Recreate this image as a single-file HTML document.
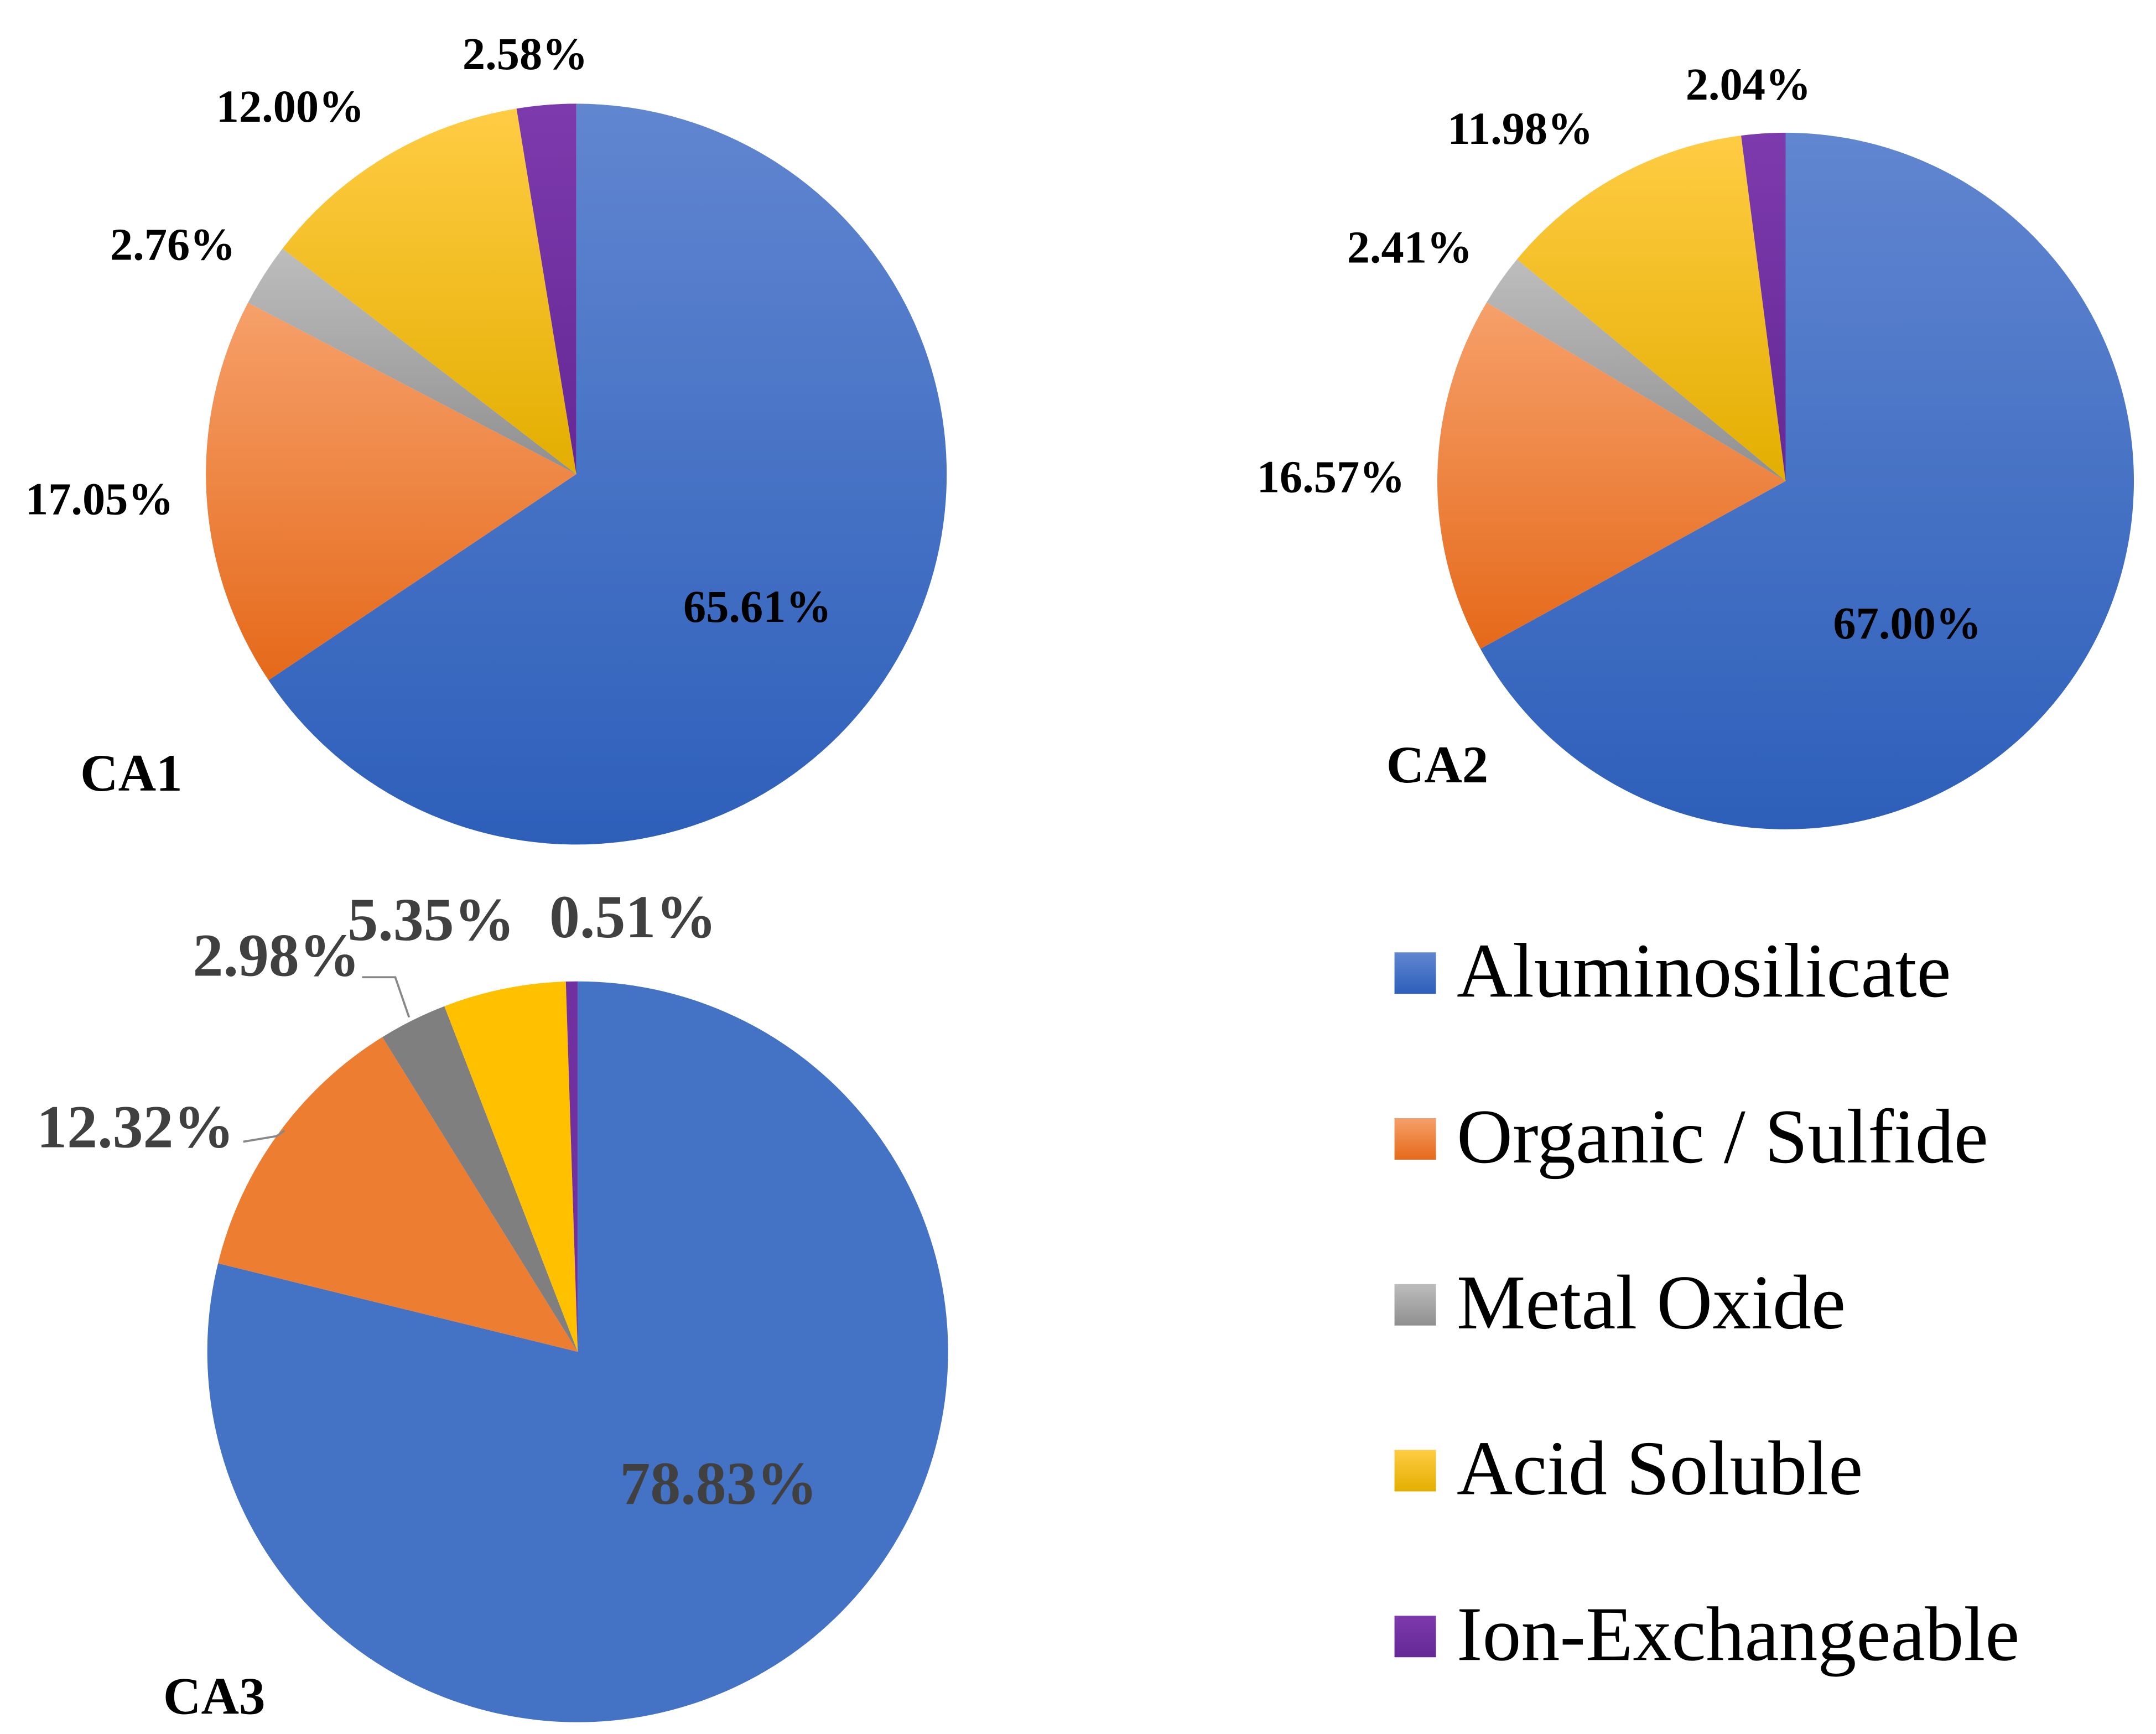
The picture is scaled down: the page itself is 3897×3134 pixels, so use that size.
<!DOCTYPE html>
<html><head><meta charset="utf-8"><style>
html,body{margin:0;padding:0;background:#fff}
svg{display:block}
text{font-family:"Liberation Serif",serif}
</style></head>
<body>
<svg id="chart" width="3897" height="3134" viewBox="0 0 1560 1254.5" xmlns="http://www.w3.org/2000/svg">
<defs>
<linearGradient id="gBlue" x1="0" y1="0" x2="0" y2="1"><stop offset="0" stop-color="#6186d0"/><stop offset="1" stop-color="#2d5fba"/></linearGradient>
<linearGradient id="gOrange" x1="0" y1="0" x2="0" y2="1"><stop offset="0" stop-color="#f6a06a"/><stop offset="1" stop-color="#e5691a"/></linearGradient>
<linearGradient id="gGray" x1="0" y1="0" x2="0" y2="1"><stop offset="0" stop-color="#bdbdbd"/><stop offset="1" stop-color="#8f8f8f"/></linearGradient>
<linearGradient id="gYellow" x1="0" y1="0" x2="0" y2="1"><stop offset="0" stop-color="#ffcc44"/><stop offset="1" stop-color="#e3ae00"/></linearGradient>
<linearGradient id="gPurple" x1="0" y1="0" x2="0" y2="1"><stop offset="0" stop-color="#7d3aac"/><stop offset="1" stop-color="#642895"/></linearGradient>
</defs>
<g id="layer"></g>
</svg>
<script>
const categories = ["Aluminosilicate","Organic / Sulfide","Metal Oxide","Acid Soluble","Ion-Exchangeable"];
const ca1Values = [65.61,17.05,2.76,12.00,2.58];
const ca2Values = [67.00,16.57,2.41,11.98,2.04];
const ca3Values = [78.83,12.32,2.98,5.35,0.51];
const pieNames = ["CA1","CA2","CA3"];

const NS="http://www.w3.org/2000/svg";
const layer=document.getElementById('layer');
function mk(tag,attrs){const e=document.createElementNS(NS,tag);for(const k in attrs)e.setAttribute(k,attrs[k]);layer.appendChild(e);return e;}
const gradFills=["url(#gBlue)","url(#gOrange)","url(#gGray)","url(#gYellow)","url(#gPurple)"];
const flatFills=["#4472c4","#ed7d31","#7f7f7f","#ffc000","#7030a0"];

const pies=[
 {vals:ca1Values,cx:417,cy:343,r:268,fills:gradFills,fs:33,color:"#000",
  labels:[[548,450],[72,372],[125,188],[210,88],[380,50]],name:[95,572]},
 {vals:ca2Values,cx:1292,cy:348,r:252,fills:gradFills,fs:33,color:"#000",
  labels:[[1380,462],[963,356],[1020,190],[1100,104],[1265,72]],name:[1040,566]},
 {vals:ca3Values,cx:418,cy:978,r:268,fills:flatFills,fs:44,color:"#404040",
  labels:[[520,1088],[98,830],[200,706],[312,680],[458,678]],name:[155,1240]}
];
function pt(cx,cy,r,a){return [cx+r*Math.sin(a),cy-r*Math.cos(a)];}
pies.forEach((p,pi)=>{
  const tot=p.vals.reduce((a,b)=>a+b,0);
  let a0=0;
  p.vals.forEach((v,i)=>{
    const a1=a0+v/tot*2*Math.PI;
    const [x0,y0]=pt(p.cx,p.cy,p.r,a0),[x1,y1]=pt(p.cx,p.cy,p.r,a1);
    const large=(a1-a0)>Math.PI?1:0;
    const path=mk('path',{d:`M${p.cx},${p.cy} L${x0},${y0} A${p.r},${p.r} 0 ${large} 1 ${x1},${y1} Z`,fill:p.fills[i]});
    
    
    a0=a1;
  });
  p.vals.forEach((v,i)=>{
    const t=mk('text',{x:p.labels[i][0],y:p.labels[i][1],'text-anchor':'middle','font-size':p.fs,'font-weight':'bold',fill:p.color});
    t.textContent=v.toFixed(2)+'%';
    
    
  });
  const n=mk('text',{x:p.name[0],y:p.name[1],'text-anchor':'middle','font-size':38,'font-weight':'bold',fill:'#000'});
  n.textContent=pieNames[pi];
  
  
});
const l1=mk('polyline',{points:"176,826 200,822 206,818",fill:'none',stroke:'#888','stroke-width':1.5});


const l2=mk('polyline',{points:"262,707 286,707 296,736",fill:'none',stroke:'#888','stroke-width':1.5});


categories.forEach((c,i)=>{
  const y=704+i*120;
  const r=mk('rect',{x:1009,y:y-15,width:30,height:30,fill:gradFills[i]});
  
  
  const t=mk('text',{x:1054,y:y+17,'font-size':56,fill:'#000'});
  t.textContent=c;
  
  
});
</script>
</body></html>
